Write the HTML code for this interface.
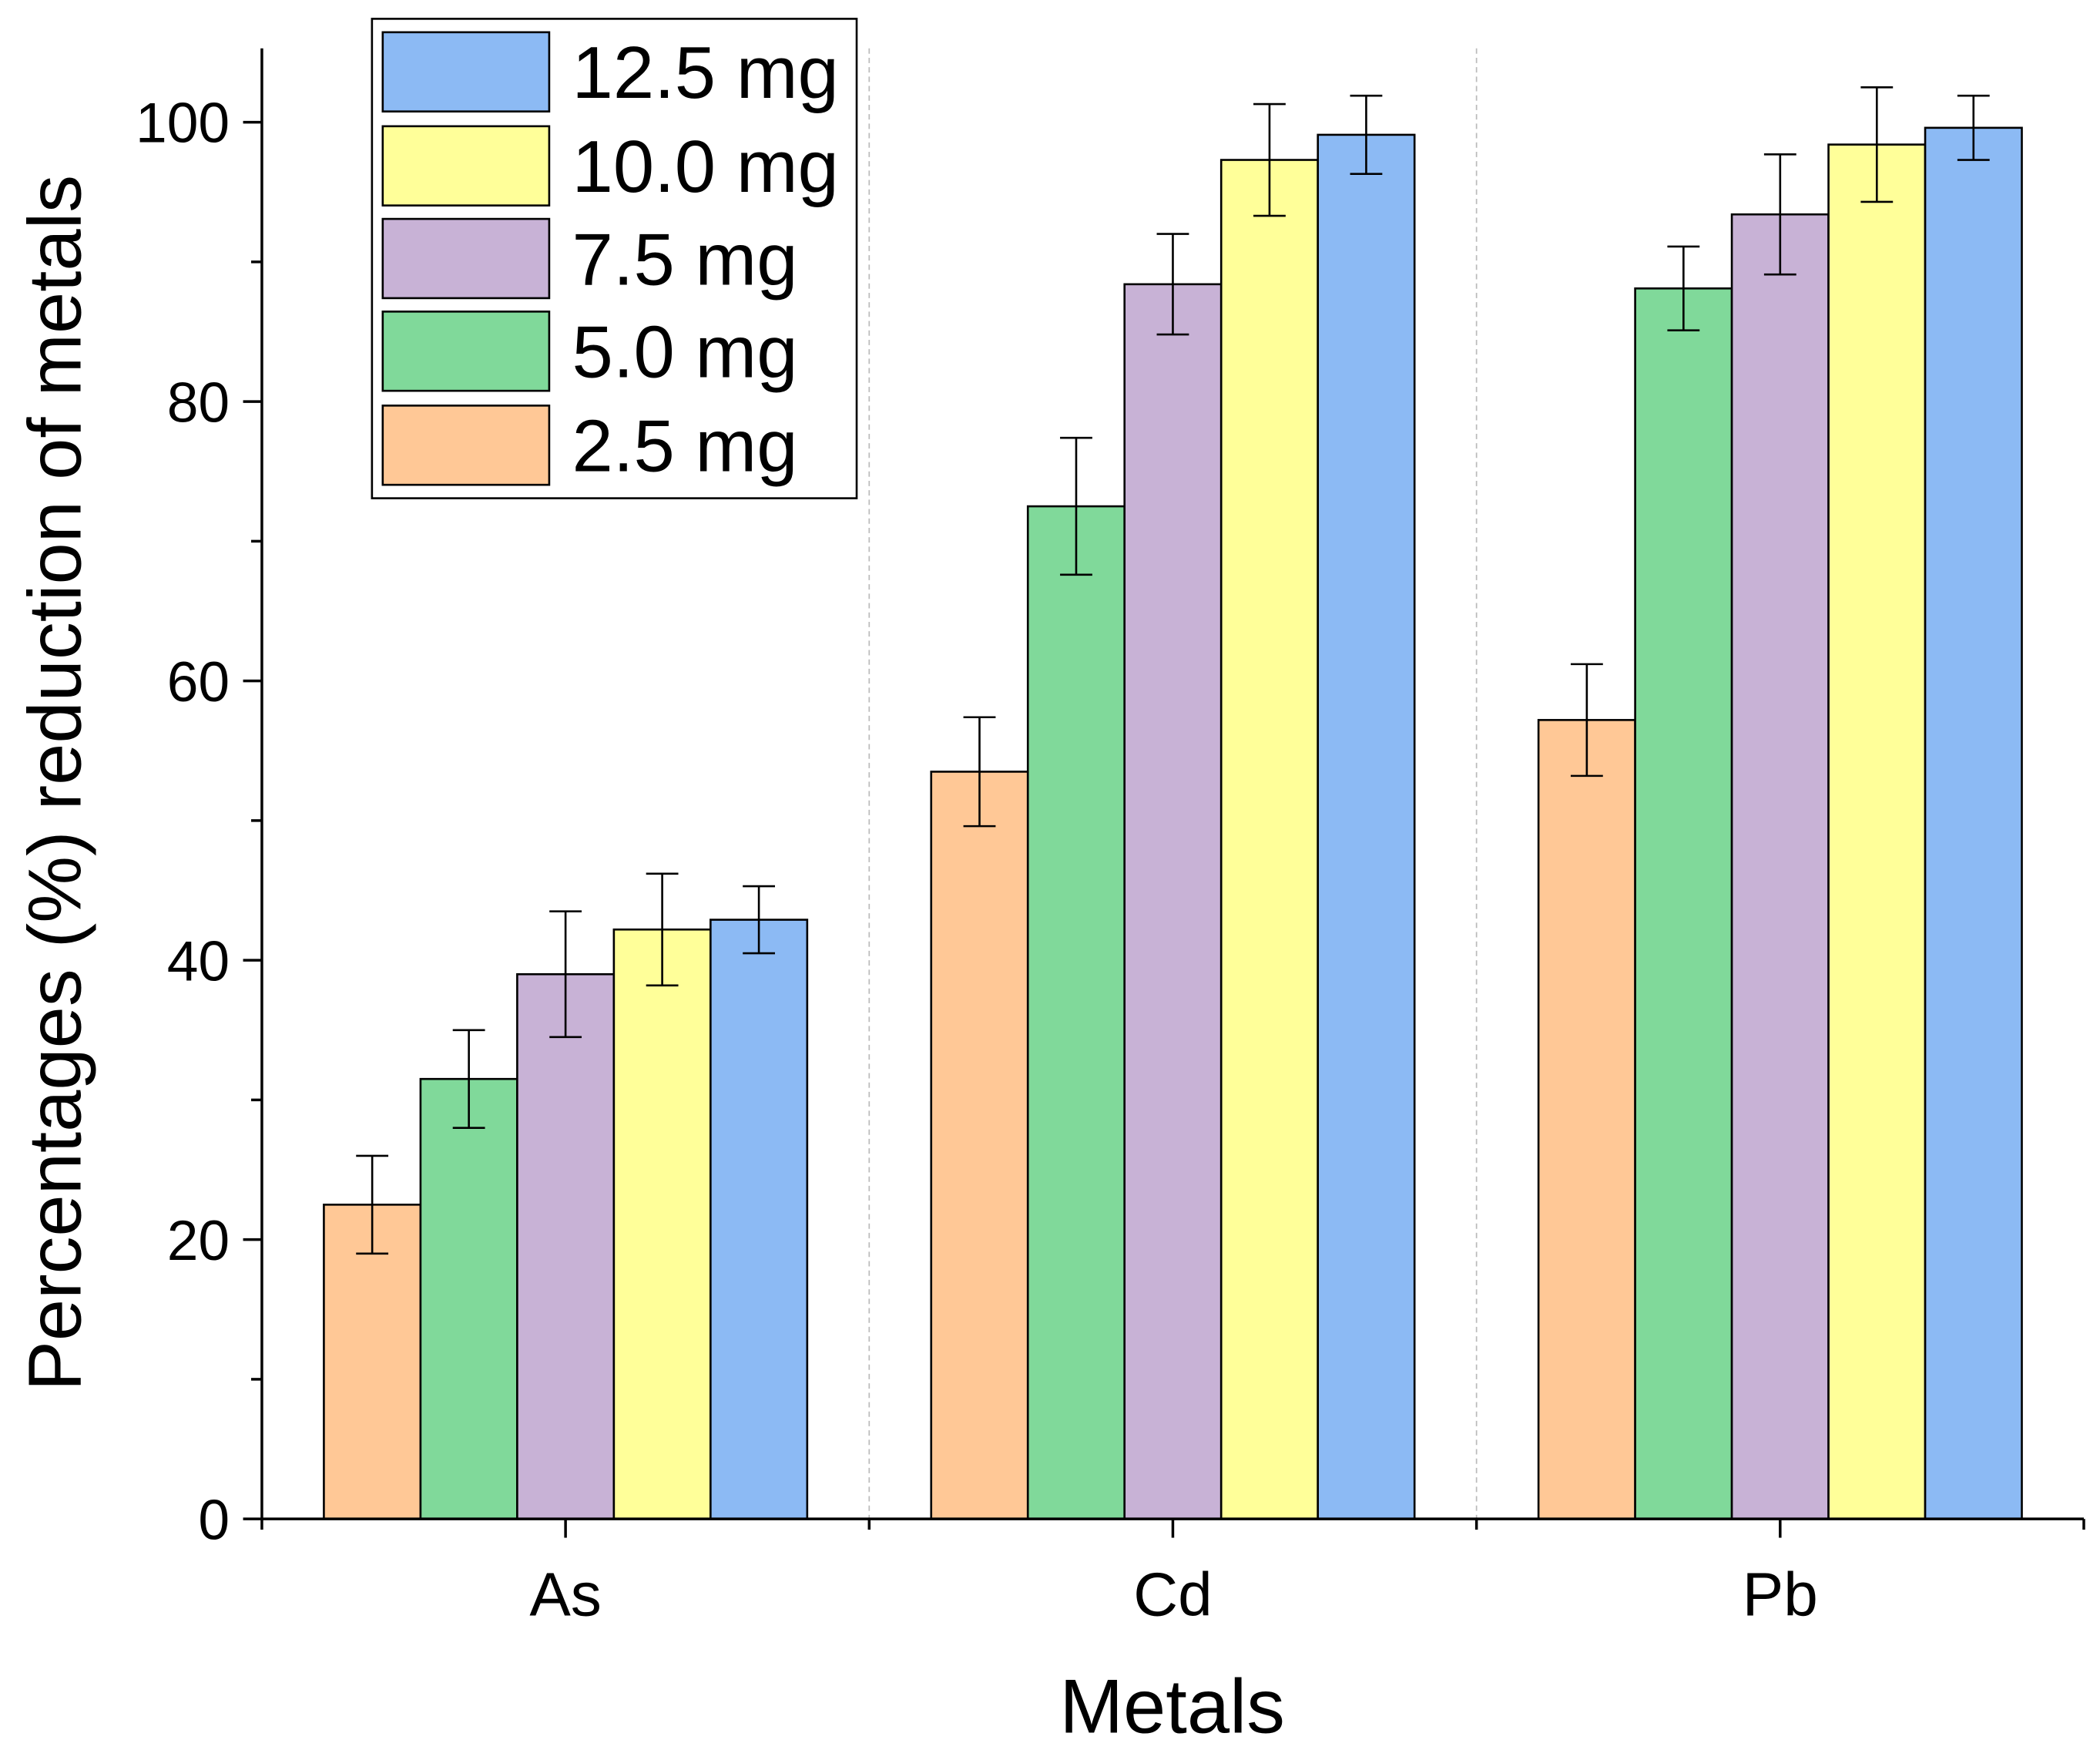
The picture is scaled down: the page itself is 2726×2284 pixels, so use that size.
<!DOCTYPE html>
<html><head><meta charset="utf-8"><style>
html,body{margin:0;padding:0;background:#fff;}
svg{display:block;font-family:"Liberation Sans",Arial,sans-serif;}
</style></head><body>
<svg id="chart" width="2726" height="2284" viewBox="0 0 1564 1310.5" xmlns="http://www.w3.org/2000/svg">
<g id="grid"></g>
<g id="bars"></g>
<g id="axes"></g>
<text x="0" y="0" transform="translate(60,583) rotate(-90)" text-anchor="middle" font-size="56">Percentages (%) reduction of metals</text>
<text x="873" y="1290" text-anchor="middle" font-size="57">Metals</text>
<g id="legend"></g>
</svg>
<script>
const categories = ["As", "Cd", "Pb"];
const seriesNames = ["2.5 mg", "5.0 mg", "7.5 mg", "10.0 mg", "12.5 mg"];
const s25 = [22.5, 53.5, 57.2];
const s50 = [31.5, 72.5, 88.1];
const s75 = [39.0, 88.4, 93.4];
const s100 = [42.2, 97.3, 98.4];
const s125 = [42.9, 99.1, 99.6];
const e25 = [3.5, 3.9, 4.0];
const e50 = [3.5, 4.9, 3.0];
const e75 = [4.5, 3.6, 4.3];
const e100 = [4.0, 4.0, 4.1];
const e125 = [2.4, 2.8, 2.3];
const yTicks = [0, 20, 40, 60, 80, 100];

const NS = "http://www.w3.org/2000/svg";
const colors = ["#FFC896", "#80D99A", "#C8B2D6", "#FFFF99", "#8CBAF4"];
const values = [s25, s50, s75, s100, s125];
const errs = [e25, e50, e75, e100, e125];
const X0 = 195, X1 = 1552, Y0 = 1131, Ytop = 91;
const groupW = (X1 - X0) / categories.length;
const barW = 72;
function y(v){ return Y0 - (v / 100) * (Y0 - Ytop); }
function xc(i){ return X0 + groupW * (i + 0.5); }
function mk(tag, attrs, parent){ const e = document.createElementNS(NS, tag); for (const k in attrs) e.setAttribute(k, attrs[k]); parent.appendChild(e); return e; }
const grid = document.getElementById("grid"), bars = document.getElementById("bars"), axes = document.getElementById("axes"), legend = document.getElementById("legend");

for (let i = 1; i < categories.length; i++) {
  const l = mk("line", {x1: X0 + groupW * i, x2: X0 + groupW * i, y1: 36, y2: Y0, stroke: "#bbb", "stroke-width": 1, "stroke-dasharray": "4,3"}, grid);
  
  
}

categories.forEach((c, ci) => {
  values.forEach((arr, si) => {
    const bx = xc(ci) + (si - 2.5) * barW;
    const r = mk("rect", {x: bx, y: y(arr[ci]), width: barW, height: Y0 - y(arr[ci]), fill: colors[si], stroke: "#000", "stroke-width": 1.5}, bars);
    
    
    const cx = bx + barW / 2, top = y(arr[ci] + errs[si][ci]), bot = y(arr[ci] - errs[si][ci]);
    const g = mk("g", {stroke: "#000", "stroke-width": 1.5}, bars);
    
    
    mk("line", {x1: cx, x2: cx, y1: top, y2: bot}, g);
    mk("line", {x1: cx - 12, x2: cx + 12, y1: top, y2: top}, g);
    mk("line", {x1: cx - 12, x2: cx + 12, y1: bot, y2: bot}, g);
  });
  const t = mk("text", {x: xc(ci), y: 1203, "text-anchor": "middle", "font-size": 46}, axes);
  t.textContent = c;
  
  
  mk("line", {x1: xc(ci), x2: xc(ci), y1: Y0, y2: Y0 + 14, stroke: "#000", "stroke-width": 2}, axes);
});
for (let i = 0; i <= categories.length; i++) mk("line", {x1: X0 + groupW * i, x2: X0 + groupW * i, y1: Y0, y2: Y0 + 8, stroke: "#000", "stroke-width": 2}, axes);

const ya = mk("line", {x1: X0, x2: X0, y1: 36, y2: Y0, stroke: "#000", "stroke-width": 2}, axes);


const xa = mk("line", {x1: X0, x2: X1, y1: Y0, y2: Y0, stroke: "#000", "stroke-width": 2}, axes);


yTicks.forEach(v => {
  mk("line", {x1: X0 - 14, x2: X0, y1: y(v), y2: y(v), stroke: "#000", "stroke-width": 2}, axes);
  mk("line", {x1: X0 - 8, x2: X0, y1: y(v + 10), y2: y(v + 10), stroke: "#000", "stroke-width": 2}, axes);
  const t = mk("text", {x: X0 - 24, y: y(v) + 15, "text-anchor": "end", "font-size": 42}, axes);
  t.textContent = v;
  
  
});

mk("rect", {x: 277, y: 14, width: 361, height: 357, fill: "#fff", stroke: "#000", "stroke-width": 1.5}, legend);
const rowsY = [24, 94, 163, 232, 302];
for (let k = 0; k < 5; k++) {
  const si = 4 - k;
  const sw = mk("rect", {x: 285, y: rowsY[k], width: 124, height: 59, fill: colors[si], stroke: "#000", "stroke-width": 1.5}, legend);
  
  
  const t = mk("text", {x: 426, y: rowsY[k] + 49, "font-size": 55}, legend);
  t.textContent = seriesNames[si];
  
  
}
</script>
</body></html>
